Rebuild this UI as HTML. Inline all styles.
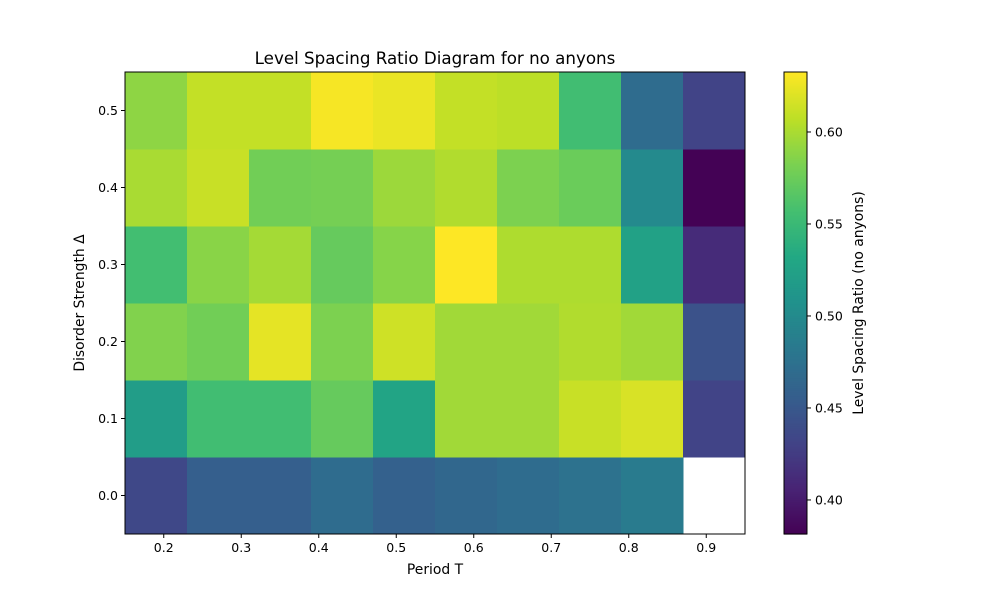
<!DOCTYPE html>
<html><head><meta charset="utf-8"><style>
html,body{margin:0;padding:0;background:#fff;}
svg text{font-family:"DejaVu Sans","Liberation Sans",sans-serif;fill:#000;}
</style></head><body>
<svg id="chart" width="1000" height="600" viewBox="0 0 1000 600" xmlns="http://www.w3.org/2000/svg">
<text x="435" y="64" font-size="16.7" text-anchor="middle">Level Spacing Ratio Diagram for no anyons</text>
<g id="cells"></g>
<rect x="125" y="72" width="620" height="462" fill="none" stroke="#000" stroke-width="1"/>
<g id="xaxis"></g>
<g id="yaxis"></g>
<text x="435" y="574" font-size="13.9" text-anchor="middle">Period T</text>
<text transform="translate(84,303) rotate(-90)" font-size="13.9" text-anchor="middle">Disorder Strength Δ</text>
<g id="cbar"></g>
<text transform="translate(863,303) rotate(-90)" font-size="13.9" text-anchor="middle">Level Spacing Ratio (no anyons)</text>
</svg>
<script>
const periods = [0.19,0.27,0.35,0.43,0.51,0.59,0.67,0.75,0.83,0.91];
const disorders = [0.0,0.1,0.2,0.3,0.4,0.5];
const ratios = [
 [0.435,0.457,0.457,0.470,0.459,0.465,0.470,0.476,0.485,null],
 [0.520,0.555,0.555,0.573,0.528,0.597,0.597,0.612,0.618,0.432],
 [0.585,0.578,0.623,0.583,0.614,0.597,0.597,0.603,0.597,0.445],
 [0.556,0.588,0.598,0.573,0.587,0.633,0.602,0.602,0.525,0.412],
 [0.600,0.612,0.578,0.580,0.595,0.603,0.583,0.575,0.500,0.382],
 [0.590,0.610,0.610,0.630,0.625,0.610,0.607,0.555,0.470,0.432]
];
const xTicks = [0.2,0.3,0.4,0.5,0.6,0.7,0.8,0.9];
const yTicks = [0.0,0.1,0.2,0.3,0.4,0.5];
const cTicks = [0.40,0.45,0.50,0.55,0.60];
const vmin = 0.3815, vmax = 0.6326;

const NS='http://www.w3.org/2000/svg';
const X0=125,X1=745,Y0=72,Y1=534;
const xs = v => X0 + (v-0.15)/(0.95-0.15)*(X1-X0);
const ys = v => Y1 - (v+0.05)/(0.55+0.05)*(Y1-Y0);
const cs = v => Y1 - (v-vmin)/(vmax-vmin)*(Y1-Y0);
const vir=['#440154','#482475','#414487','#355f8d','#2a788e','#21918c','#22a884','#44bf70','#7ad151','#bddf26','#fde725'];
function hx(h){return [1,3,5].map(i=>parseInt(h.substr(i,2),16));}
function color(v){let t=Math.max(0,Math.min(1,(v-vmin)/(vmax-vmin)))*10;let i=Math.min(9,Math.floor(t));let f=t-i;
 const a=hx(vir[i]),b=hx(vir[i+1]);return 'rgb('+a.map((c,k)=>Math.round(c+(b[k]-c)*f)).join(',')+')';}
function mk(tag,attrs,parent){const e=document.createElementNS(NS,tag);for(const k in attrs)e.setAttribute(k,attrs[k]);parent.appendChild(e);return e;}
const cells=document.getElementById('cells');
const dw=0.08, dh=0.1;
disorders.forEach((d,r)=>periods.forEach((p,c)=>{
 const v=ratios[r][c]; if(v===null) return;
 const x=xs(p-dw/2), x2=xs(p+dw/2), y=ys(d+dh/2), y2=ys(d-dh/2);
 const e=mk('rect',{x:x,y:y,width:x2-x+0.5,height:y2-y+0.5,fill:color(v)},cells);
 
 
}));
const xa=document.getElementById('xaxis');
xTicks.forEach(t=>{const x=xs(t);
 const l=mk('line',{x1:x,x2:x,y1:Y1,y2:Y1+4,stroke:'#000'},xa);
 
 
 const tx=mk('text',{x:x,y:Y1+18,'font-size':'12.5','text-anchor':'middle'},xa);tx.textContent=t.toFixed(1);
 
 
});
const ya=document.getElementById('yaxis');
yTicks.forEach(t=>{const y=ys(t);
 const l=mk('line',{x1:X0-4,x2:X0,y1:y,y2:y,stroke:'#000'},ya);
 
 
 const tx=mk('text',{x:X0-7,y:y+4.5,'font-size':'12.5','text-anchor':'end'},ya);tx.textContent=t.toFixed(1);
 
 
});
const cb=document.getElementById('cbar');
const CX=784,CW=23;
for(let i=0;i<231;i++){const v=vmin+(vmax-vmin)*(i+0.5)/231;
 const y=cs(vmin+(vmax-vmin)*(i+1)/231);
 const r=mk('rect',{x:CX,y:y,width:CW,height:(Y1-Y0)/231+0.6,fill:color(v)},cb);
 
 
}
const fr=mk('rect',{x:CX,y:Y0,width:CW,height:Y1-Y0,fill:'none',stroke:'#000'},cb);


cTicks.forEach(t=>{const y=cs(t);
 const l=mk('line',{x1:CX+CW,x2:CX+CW+4,y1:y,y2:y,stroke:'#000'},cb);
 
 
 const tx=mk('text',{x:CX+CW+8,y:y+4.5,'font-size':'12.5'},cb);tx.textContent=t.toFixed(2);
 
 
});
</script>
</body></html>
